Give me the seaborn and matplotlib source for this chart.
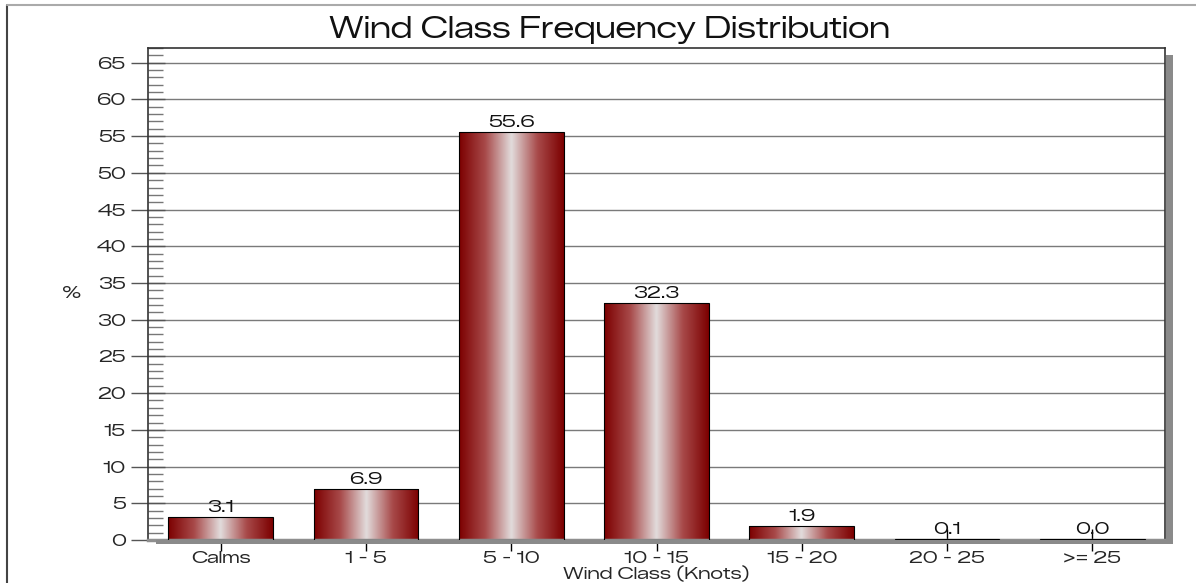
import numpy as np
import pandas as pd
import matplotlib
matplotlib.use("Agg")
import matplotlib.pyplot as plt
from matplotlib.colors import LinearSegmentedColormap
from matplotlib.patches import Rectangle
from matplotlib.ticker import MultipleLocator
import seaborn as sns

# Wind class frequency data (percent of observations)
classes = ["Calms", "1 - 5", "5 - 10", "10 - 15", "15 - 20", "20 - 25", ">= 25"]
percent = [3.1, 6.9, 55.6, 32.3, 1.9, 0.1, 0.0]
value_labels = ["3.1", "6.9", "55.6", "32.3", "1.9", "0.1", "0.0"]

sns.set_theme(style="white")
plt.rcParams["font.family"] = ["Zalando Sans Expanded", "Encode Sans Expanded",
                               "Liberation Sans", "DejaVu Sans"]

TXT = 12.5
fig = plt.figure(figsize=(11.96, 5.83), dpi=100)
W, H = 1196, 583
ax = fig.add_axes([148 / W, 43 / H, (1165 - 148) / W, (540 - 48) / H])

df = pd.DataFrame({"cls": classes, "pct": percent})
sns.barplot(data=df, x="cls", y="pct", color="#800000", width=0.72,
            edgecolor="black", linewidth=0.8, ax=ax, zorder=3)

ax.set_xlim(-0.5, 6.5)
ax.set_ylim(0, 67)

# Metallic horizontal gradient for each bar
grad_cmap = LinearSegmentedColormap.from_list(
    "redmetal", ["#7c0000", "#a84a4a", "#e2dcdc", "#a84a4a", "#7c0000"])
grad = np.linspace(0, 1, 256).reshape(1, -1)
for patch in ax.patches:
    x0, y0 = patch.get_x(), patch.get_y()
    w, h = patch.get_width(), patch.get_height()
    patch.set_facecolor("none")
    if h <= 0:
        h = 0.12
        patch.set_height(h)
    im = ax.imshow(grad, cmap=grad_cmap, aspect="auto",
                   extent=[x0, x0 + w, y0, y0 + h], zorder=2.5,
                   interpolation="bicubic")
    im.set_clip_path(patch)

# Value labels above bars
for i, (v, lab) in enumerate(zip(percent, value_labels)):
    ax.text(i, max(v, 0.12) + 0.3, lab, ha="center", va="bottom",
            fontsize=TXT, color="#111111", zorder=5)

# Grid and ticks
ax.yaxis.set_major_locator(MultipleLocator(5))
ax.yaxis.set_minor_locator(MultipleLocator(1))
ax.grid(axis="y", which="major", color="#7a7a7a", linewidth=1.0, zorder=0)
ax.tick_params(axis="y", which="major", direction="inout", length=24,
               width=1.0, color="#555555", labelsize=TXT, pad=4, left=True)
ax.tick_params(axis="y", which="minor", direction="in", length=11,
               width=1.0, color="#777777", left=True)
ax.tick_params(axis="x", which="major", direction="inout", length=16,
               width=1.0, color="black", labelsize=TXT, pad=0, bottom=True)

ax.set_xlabel("Wind Class (Knots)", fontsize=TXT)
ax.xaxis.set_label_coords(0.5, (540 - 574) / 492)
ax.xaxis.label.set_va("center")
ax.set_ylabel("%", fontsize=TXT, rotation=0, va="center", ha="center")
ax.yaxis.set_label_coords((72 - 148) / 1017, (540 - 293) / 492)

for side in ["top", "right", "left"]:
    ax.spines[side].set_visible(True)
    ax.spines[side].set_color("#333333")
    ax.spines[side].set_linewidth(1.2)
ax.spines["bottom"].set_visible(True)
ax.spines["bottom"].set_color("#8f8f8f")
ax.spines["bottom"].set_linewidth(2.5)

# Drop shadow along the right and bottom edges of the plot area
fig.patches.append(Rectangle((1166 / W, 40 / H), 7 / W, (528 - 40) / H,
                             transform=fig.transFigure, facecolor="#8a8a8a",
                             edgecolor="none", zorder=0))
fig.patches.append(Rectangle((156 / W, 39 / H), (1173 - 156) / W, 4 / H,
                             transform=fig.transFigure, facecolor="#8a8a8a",
                             edgecolor="none", zorder=0))

# Outer frame of the figure
fig.add_artist(plt.Line2D([7 / W, 7 / W], [0, 1 - 5 / H],
                          transform=fig.transFigure, color="#444444", lw=1.5))
fig.add_artist(plt.Line2D([7 / W, 1], [1 - 5 / H, 1 - 5 / H],
                          transform=fig.transFigure, color="#aaaaaa", lw=1.5))

fig.text(609 / W, 1 - 30 / H, "Wind Class Frequency Distribution",
         ha="center", va="center", fontsize=21, color="#111111")

fig.savefig("out.png", dpi=100)
